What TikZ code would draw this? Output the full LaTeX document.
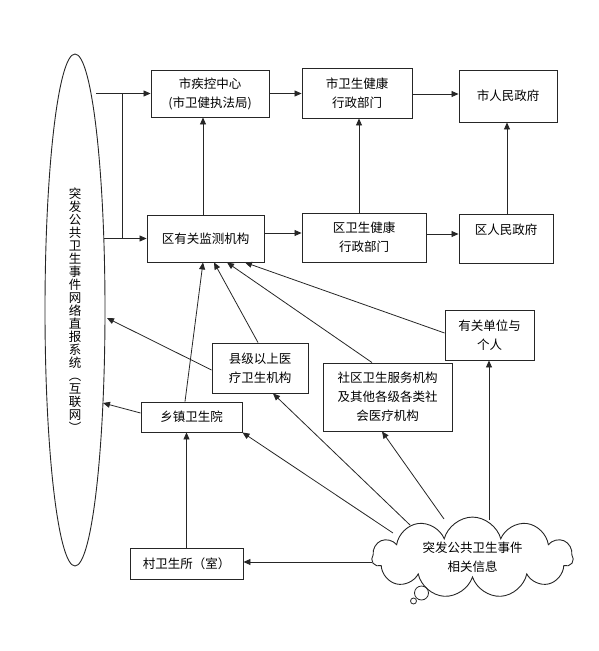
\documentclass[tikz,border=0pt]{standalone}
\usepackage{fontspec}
\setmainfont{Noto Sans CJK SC}
\usetikzlibrary{shapes.geometric,shapes.symbols,arrows.meta,calc}
\begin{document}
\begin{tikzpicture}[x=1pt,y=-1pt,
 box/.style={draw=black!85,line width=0.9pt,align=center,inner sep=0pt,font=\fontsize{12.5}{19}\selectfont},
 arr/.style={draw=black!85,line width=0.8pt,-{Triangle[length=7pt,width=6pt]}},
 ln/.style={draw=black!85,line width=0.8pt}]
\useasboundingbox (0,0) rectangle (599,651);
% ellipse
\node[ellipse,draw=black!85,line width=0.9pt,minimum width=60pt,minimum height=512pt,inner sep=0pt,align=center,font=\fontsize{12.5}{13}\selectfont] (net) at (75,310)
 {突\\发\\公\\共\\卫\\生\\事\\件\\网\\络\\直\\报\\系\\统\\︵\\互\\联\\网\\︶};
% boxes
\node[box,minimum width=118pt,minimum height=47pt] (cdc) at (210,93.5) {市疾控中心\\(市卫健执法局)};
\node[box,minimum width=110pt,minimum height=50pt] (swj) at (357,93) {市卫生健康\\行政部门};
\node[box,minimum width=98pt,minimum height=52pt] (szf) at (508,96) {市人民政府};
\node[box,minimum width=117pt,minimum height=47pt] (qjc) at (205.5,238.5) {区有关监测机构};
\node[box,minimum width=124pt,minimum height=49pt] (qwj) at (364,237.5) {区卫生健康\\行政部门};
\node[box,minimum width=94pt,minimum height=49pt] (qzf) at (506,238.5) {区人民政府\\\mbox{}};
\node[box,minimum width=96pt,minimum height=50pt] (xj) at (260,368) {县级以上医\\疗卫生机构};
\node[box,minimum width=101pt,minimum height=30pt] (xz) at (191.5,417) {乡镇卫生院};
\node[box,minimum width=89pt,minimum height=50pt] (yg) at (489.5,335) {有关单位与\\个人};
\node[box,minimum width=129pt,minimum height=68pt] (sq) at (387.5,397) {社区卫生服务机构\\及其他各级各类社\\会医疗机构};
\node[box,minimum width=113pt,minimum height=31pt] (cw) at (186.5,563.5) {村卫生所（室）};
\node[cloud,cloud puffs=11,aspect=2.7,draw=black!85,line width=0.9pt,minimum width=201pt,minimum height=75pt,inner sep=0pt,align=center,font=\fontsize{12.5}{19}\selectfont] (cl) at (472.5,557.5) {突发公共卫生事件\\相关信息};
\node[circle,draw=black!85,line width=0.8pt,minimum size=14pt,inner sep=0pt] (b1) at (421.5,593) {};
\node[circle,draw=black!85,line width=0.8pt,minimum size=6pt,inner sep=0pt] (b2) at (413.5,601) {};
% coordinates
\coordinate (e1) at (96,93.5);
\coordinate (j1) at (122,93.5);
\coordinate (j2) at (122,238.5);
\coordinate (e2) at (104,238.5);
\coordinate (e3) at (107,318);
\coordinate (e4) at (103,403);
\coordinate (kyg) at ($(cl.center)+(16.5,-37.5)$);
\coordinate (ksq) at ($(cl.center)+(-28.5,-38.5)$);
\coordinate (kxj) at ($(cl.center)+(-62.5,-32.5)$);
\coordinate (kxz) at ($(cl.center)+(-79.5,-24.5)$);
\coordinate (kcw) at ($(cl.center)+(-100.5,4.5)$);
% top part
\draw[arr] (e1) -- (cdc.west);
\draw[ln] (j1) -- (j2);
\draw[arr] (e2) -- (qjc.west);
\draw[arr] (cdc.east) -- (cdc.east -| swj.west);
\draw[arr] ([yshift=-1pt]swj.east) -- ([yshift=-1pt]swj.east -| szf.west);
\draw[arr] ([xshift=-2.5pt]qjc.north) -- ([xshift=-2.5pt]qjc.north |- cdc.south);
\draw[arr] ([xshift=2pt]swj.south |- qwj.north) -- ([xshift=2pt]swj.south);
\draw[arr] ([xshift=1pt]qzf.north) -- ([xshift=1pt]qzf.north |- szf.south);
\draw[arr] ([yshift=5.5pt]qjc.east) -- ([yshift=5.5pt]qjc.east -| qwj.west);
\draw[arr] ([yshift=3.5pt]qwj.east) -- ([yshift=3.5pt]qwj.east -| qzf.west);
% into qjc from below
\draw[arr] ([xshift=-6.5pt]xz.north) -- ([xshift=-2.5pt]qjc.south);
\draw[arr] ([xshift=-2pt]xj.north) -- ([xshift=8.5pt]qjc.south);
\draw[arr] ([xshift=-15.5pt]sq.north) -- ([xshift=21.5pt]qjc.south);
\draw[arr] ([yshift=2pt]yg.west) -- ([xshift=39.5pt]qjc.south);
% into ellipse
\draw[arr] ([yshift=-2pt]xj.west) -- (e3);
\draw[arr] ([yshift=4pt]xz.west) -- (e4);
% lower part
\draw[arr] (cw.north) -- (cw.north |- xz.south);
\draw[arr] (kcw) -- (kcw -| cw.east);
\draw[arr] (kyg) -- (kyg |- yg.south);
\draw[arr] (ksq) -- ([xshift=-5.5pt]sq.south);
\draw[arr] (kxj) -- ([xshift=13pt]xj.south);
\draw[arr] (kxz) -- (xz.south east);
\end{tikzpicture}
\end{document}
